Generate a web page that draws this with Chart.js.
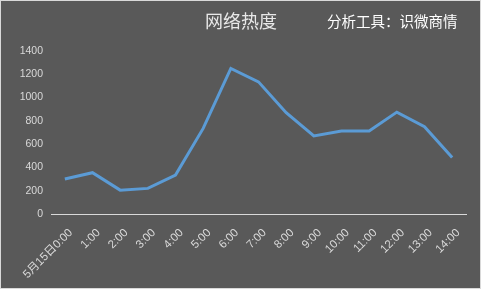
<!DOCTYPE html>
<html>
<head>
<meta charset="utf-8">
<script src="https://cdn.jsdelivr.net/npm/chart.js@4/dist/chart.umd.min.js"></script>
<style>
html,body{margin:0;padding:0;background:#595959;}
#wrap{width:481px;height:289px;position:relative;}
</style>
</head>
<body>
<div id="wrap"><canvas id="c" width="481" height="289"></canvas></div>
<script>
const categories = ['5月15日0:00','1:00','2:00','3:00','4:00','5:00','6:00','7:00','8:00','9:00','10:00','11:00','12:00','13:00','14:00'];
const heatValues = [300, 355, 205, 220, 335, 735, 1250, 1135, 870, 670, 712, 712, 875, 750, 485];
const yTicks = [0, 200, 400, 600, 800, 1000, 1200, 1400];
const titleText = '网络热度';
const subtitleText = '分析工具：识微商情';

const bgPlugin = {
  id: 'bg',
  beforeDraw(chart) {
    const ctx = chart.ctx;
    ctx.save();
    ctx.fillStyle = '#595959';
    ctx.fillRect(0, 0, chart.width, chart.height);
    ctx.strokeStyle = '#d9d9d9';
    ctx.lineWidth = 1;
    ctx.strokeRect(0.5, 0.5, chart.width - 1, chart.height - 1);
    ctx.textBaseline = 'middle';
    ctx.textAlign = 'center';
    ctx.fillStyle = '#e8e8e8';
    ctx.font = '18px "Noto Sans CJK SC"';
    ctx.fillText(titleText, 241, 21);
    ctx.textAlign = 'left';
    ctx.fillStyle = '#ffffff';
    ctx.font = '14.5px "Noto Sans CJK SC"';
    ctx.fillText(subtitleText, 327, 21);
    ctx.restore();
  }
};

new Chart(document.getElementById('c'), {
  type: 'line',
  data: {
    labels: categories,
    datasets: [{
      data: heatValues,
      borderColor: '#5b9bd5',
      borderWidth: 3,
      pointRadius: 0,
      tension: 0,
      fill: false
    }]
  },
  options: {
    responsive: false,
    animation: false,
    layout: { padding: { left: 0, right: 15, top: 51, bottom: 0 } },
    plugins: { legend: { display: false }, tooltip: { enabled: false } },
    scales: {
      x: {
        offset: true,
        grid: { display: false, drawTicks: false },
        border: { display: true, color: '#d9d9d9', width: 1 },
        ticks: {
          color: '#d9d9d9',
          font: { family: '"Liberation Sans", "Noto Sans CJK SC"', size: 11.5 },
          minRotation: 45, maxRotation: 45,
          autoSkip: false,
          padding: 12,
          labelOffset: 6
        },
        afterFit(s) { s.height = 289 - 214; }
      },
      y: {
        min: 0, max: 1400,
        afterBuildTicks(s) { s.ticks = yTicks.map(v => ({ value: v })); },
        grid: { display: false, drawTicks: false },
        border: { display: false },
        ticks: {
          color: '#d9d9d9',
          font: { family: '"Liberation Sans"', size: 10.5 },
          padding: 8,
          callback: v => String(v)
        },
        afterFit(s) { s.width = 51; }
      }
    }
  },
  plugins: [bgPlugin]
});
</script>
</body>
</html>
